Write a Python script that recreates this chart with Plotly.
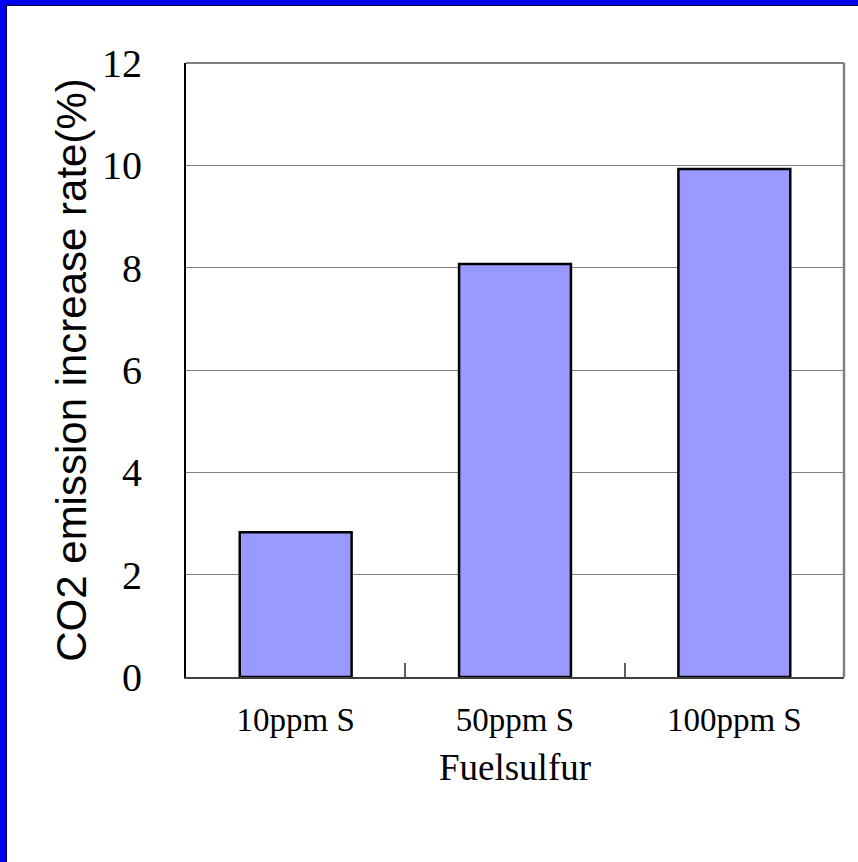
import plotly.graph_objects as go

categories = ["10ppm S", "50ppm S", "100ppm S"]
values = [2.83, 8.07, 9.93]
y_ticks = [0, 2, 4, 6, 8, 10, 12]

W, H = 858, 862
L, R, T, B = 186, 14, 63, 185
pw = W - L - R
ph = H - T - B

fig = go.Figure()
fig.add_trace(go.Bar(
    x=categories, y=values,
    marker=dict(color="#9999FF", line=dict(color="black", width=2.5)),
    width=0.51,
))

def px_x(p):
    return (p - L) / pw

def px_y(p):
    return 1 - (p - T) / ph

shapes = [
    # top and right frame (gray)
    dict(type="line", xref="paper", yref="paper", x0=0, x1=1, y0=1, y1=1,
         line=dict(color="#808080", width=2)),
    dict(type="line", xref="paper", yref="paper", x0=1, x1=1, y0=0, y1=1,
         line=dict(color="#808080", width=2.5)),
    # blue outer border (top and left)
    dict(type="rect", xref="paper", yref="paper", x0=px_x(0), x1=px_x(W),
         y0=px_y(5), y1=px_y(0), fillcolor="#0000EE", line=dict(width=0), layer="above"),
    dict(type="rect", xref="paper", yref="paper", x0=px_x(0), x1=px_x(6),
         y0=px_y(H), y1=px_y(0), fillcolor="#0000EE", line=dict(width=0), layer="above"),
    dict(type="line", xref="paper", yref="paper", x0=px_x(6.5), x1=px_x(6.5),
         y0=px_y(H), y1=px_y(5), line=dict(color="#000033", width=1), layer="above"),
    dict(type="line", xref="paper", yref="paper", x0=px_x(6), x1=px_x(W),
         y0=px_y(5.5), y1=px_y(5.5), line=dict(color="#000033", width=1), layer="above"),
]

fig.update_layout(
    width=W, height=H,
    margin=dict(l=L, r=R, t=T, b=B, autoexpand=False),
    paper_bgcolor="white", plot_bgcolor="white",
    showlegend=False,
    shapes=shapes,
    xaxis=dict(
        type="category",
        showline=True, linecolor="#404040", linewidth=2,
        ticks="inside", tickson="boundaries", ticklen=14, tickwidth=1.5, tickcolor="#606060",
        tickfont=dict(family="Liberation Serif", size=33, color="black"),
        ticklabelstandoff=12,
        showgrid=False,
        title=dict(text="Fuelsulfur", font=dict(family="Liberation Serif", size=37, color="black"),
                   standoff=18),
        automargin=False,
    ),
    yaxis=dict(
        range=[0, 12], tickvals=y_ticks,
        showline=True, linecolor="black", linewidth=2,
        ticks="", showgrid=True, gridcolor="#808080", gridwidth=1,
        zeroline=False,
        tickfont=dict(family="Liberation Serif", size=40, color="black"),
        ticklabelstandoff=34,
        title=dict(text="CO2 emission increase rate(%)",
                   font=dict(family="Liberation Sans", size=42, color="black"),
                   standoff=2),
        automargin=False,
    ),
)

fig.write_html("out.html")
